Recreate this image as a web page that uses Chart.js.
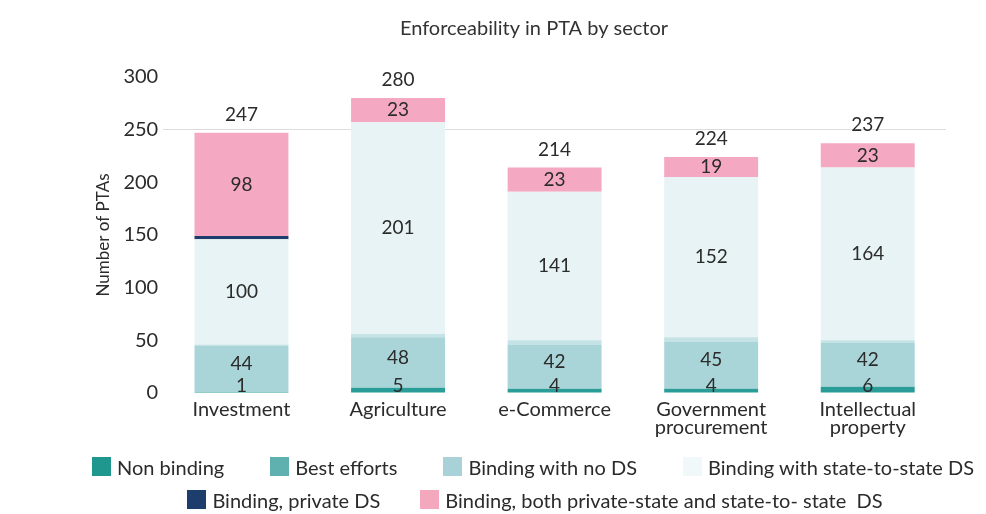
<!DOCTYPE html>
<html>
<head>
<meta charset="utf-8">
<script src="https://cdn.jsdelivr.net/npm/chart.js@4"></script>
<style>
  body { margin: 0; background: #fff; font-family: Lato, sans-serif; }
  #wrap { position: relative; width: 986px; height: 514px; }
  #legend { position: absolute; left: 0; top: 450px; width: 986px; color: #2b2b2b; font-size: 20px; }
  .row { display: flex; justify-content: center; align-items: center; height: 33px; }
  .row1 { gap: 46px; padding-left: 80px; }
  .row2 { gap: 40px; padding-left: 84px; }
  .item { display: flex; align-items: center; white-space: pre; }
  .box { width: 19px; height: 19px; margin-right: 6px; }
</style>
</head>
<body>
<div id="wrap">
  <canvas id="ptaChart" width="986" height="514"></canvas>
  <div id="legend"></div>
</div>
<script>
  const sectors = ["Investment", "Agriculture", "e-Commerce", ["Government", "procurement"], ["Intellectual", "property"]];

  const nonBinding = [1, 5, 4, 4, 6];
  const bestEfforts = [44, 48, 42, 45, 42];
  const bindingNoDS = [1, 3, 4, 4, 2];
  const bindingStateDS = [100, 201, 141, 152, 164];
  const bindingPrivateDS = [3, 0, 0, 0, 0];
  const bindingBothDS = [98, 23, 23, 19, 23];

  const yTicks = [0, 50, 100, 150, 200, 250, 300];

  // totals shown above each stack
  const totals = sectors.map((s, i) =>
    nonBinding[i] + bestEfforts[i] + bindingNoDS[i] + bindingStateDS[i] + bindingPrivateDS[i] + bindingBothDS[i]);

  const textColor = "#2b2b2b";

  // draws the numbers inside the segments and the totals on top
  const barLabels = {
    id: "barLabels",
    afterDatasetsDraw(chart) {
      const c = chart.ctx;
      c.save();
      c.font = "19px Lato";
      c.fillStyle = textColor;
      c.textAlign = "center";
      c.textBaseline = "middle";
      chart.data.datasets.forEach((ds, di) => {
        if (!ds.showValues) return;
        chart.getDatasetMeta(di).data.forEach((bar, i) => {
          const v = ds.data[i];
          let y = (bar.y + bar.base) / 2;
          if (di === 0) y = bar.base - 7;
          if (di === 1) y -= 5;
          c.fillText(v, bar.x, y);
        });
      });
      const top = chart.getDatasetMeta(chart.data.datasets.length - 1).data;
      top.forEach((bar, i) => {
        c.fillText(totals[i], bar.x, bar.y - 18);
      });
      c.restore();
    }
  };

  const chartTitle = {
    id: "chartTitle",
    afterDraw(chart) {
      const c = chart.ctx;
      c.save();
      c.font = "20px Lato";
      c.fillStyle = "#333";
      c.textAlign = "center";
      c.textBaseline = "middle";
      c.fillText("Enforceability in PTA by sector", 534, 29);
      c.restore();
    }
  };

  const ctx = document.getElementById("ptaChart").getContext("2d");
  const ptaChart = new Chart(ctx, {
    type: "bar",
    data: {
      labels: sectors,
      datasets: [
        { label: "Non binding", data: nonBinding, backgroundColor: "#2a9d98", legendColor: "#1f978e", showValues: true },
        { label: "Best efforts", data: bestEfforts, backgroundColor: "#aad5d8", legendColor: "#5eb1ae", showValues: true },
        { label: "Binding with no DS", data: bindingNoDS, backgroundColor: "#c5e3e6", legendColor: "#a9d2d8" },
        { label: "Binding with state-to-state DS", data: bindingStateDS, backgroundColor: "#e7f3f5", legendColor: "#f1f8f9", showValues: true },
        { label: "Binding, private DS", data: bindingPrivateDS, backgroundColor: "#1d3e6c", legendColor: "#1d3e6c" },
        { label: "Binding, both private-state and state-to- state  DS", data: bindingBothDS, backgroundColor: "#f5a8c2", legendColor: "#f4a8bd", showValues: true },
      ],
    },
    options: {
      responsive: false,
      animation: false,
      layout: { padding: { top: 77, left: 88, right: 40, bottom: 77 } },
      datasets: { bar: { categoryPercentage: 1, barPercentage: 0.6 } },
      scales: {
        x: {
          stacked: true,
          grid: { display: false },
          border: { display: false },
          ticks: { color: textColor, font: { family: "Lato", size: 20, lineHeight: 0.9 }, padding: 0, maxRotation: 0 },
        },
        y: {
          stacked: true,
          min: 0,
          max: 300,
          afterBuildTicks: (axis) => { axis.ticks = yTicks.map(v => ({ value: v })); },
          grid: {
            drawTicks: false,
            color: (c) => (c.tick && c.tick.value === 250 ? "#dcdcdc" : "rgba(0,0,0,0)"),
          },
          border: { display: false },
          ticks: { color: textColor, font: { family: "Lato", size: 20 }, padding: 5 },
          title: {
            display: true,
            text: "Number of PTAs",
            color: textColor,
            font: { family: "Lato", size: 17 },
            padding: { top: 5, bottom: 5 },
          },
        },
      },
      plugins: {
        legend: { display: false },
        tooltip: { enabled: false },
      },
    },
    plugins: [barLabels, chartTitle],
  });

  // legend in two rows under the chart
  const legendEl = document.getElementById("legend");
  const rows = [[0, 1, 2, 3], [4, 5]];
  rows.forEach((idx, r) => {
    const row = document.createElement("div");
    row.className = "row row" + (r + 1);
    idx.forEach(i => {
      const ds = ptaChart.data.datasets[i];
      const item = document.createElement("div");
      item.className = "item";
      const box = document.createElement("span");
      box.className = "box";
      box.style.background = ds.legendColor;
      item.appendChild(box);
      item.appendChild(document.createTextNode(ds.label));
      row.appendChild(item);
    });
    legendEl.appendChild(row);
  });
</script>
</body>
</html>
